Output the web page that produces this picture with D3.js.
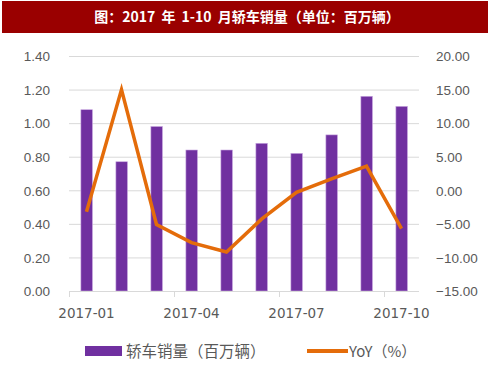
<!DOCTYPE html>
<html>
<head>
<meta charset="utf-8">
<script src="https://cdn.jsdelivr.net/npm/d3@7"></script>
<style>
  body { margin: 0; background: #fff; }
  svg { display: block; font-family: "DejaVu Sans", "Noto Sans CJK SC", sans-serif; }
</style>
</head>
<body>
<svg width="490" height="370"></svg>
<script>
// monthly data, Jan–Oct 2017
const months = ["2017-01", "2017-02", "2017-03", "2017-04", "2017-05",
                "2017-06", "2017-07", "2017-08", "2017-09", "2017-10"];
const sales = [1.08, 0.77, 0.98, 0.84, 0.84, 0.88, 0.82, 0.93, 1.16, 1.10];
const yoy = [-3.2, 15.0, -5.1, -7.8, -9.2, -4.3, -0.3, 1.7, 3.6, -5.7];
const leftTicks = [0, 0.2, 0.4, 0.6, 0.8, 1.0, 1.2, 1.4];
const rightTicks = [-15, -10, -5, 0, 5, 10, 15, 20];
const shownMonths = ["2017-01", "2017-04", "2017-07", "2017-10"];

const svg = d3.select("svg");
const margin = { left: 69, right: 419, top: 56, bottom: 291 };
const textColor = "#595959";
const tickSize = 13.5;

// title bar
svg.append("rect")
  .attr("x", 2).attr("y", 1)
  .attr("width", 486).attr("height", 32)
  .attr("fill", "#9a0000");
svg.append("text")
  .attr("x", 247).attr("y", 22)
  .attr("text-anchor", "middle")
  .attr("fill", "#fff")
  .attr("font-weight", "bold")
  .attr("font-size", 14)
  .style("font-family", "'Noto Sans CJK SC', serif")
  .style("word-spacing", "3px")
  .text("图：2017 年 1-10 月轿车销量（单位：百万辆）");

const x = d3.scaleBand()
  .domain(months)
  .range([margin.left, margin.right]);

const yLeft = d3.scaleLinear()
  .domain([0, 1.4])
  .range([margin.bottom, margin.top]);

const yRight = d3.scaleLinear()
  .domain([-15, 20])
  .range([margin.bottom, margin.top]);

// gridlines
svg.append("g")
  .selectAll("line")
  .data(leftTicks.slice(1))
  .join("line")
  .attr("x1", margin.left).attr("x2", margin.right)
  .attr("y1", d => yLeft(d) + 0.5).attr("y2", d => yLeft(d) + 0.5)
  .attr("stroke", "#d9d9d9")
  .attr("stroke-width", 1);

// left axis
const leftAxis = svg.append("g")
  .attr("transform", `translate(${margin.left - 19},0)`)
  .call(d3.axisLeft(yLeft).tickValues(leftTicks).tickFormat(d3.format(".2f")).tickSize(0).tickPadding(0));
leftAxis.select(".domain").remove();
leftAxis.selectAll("text")
  .attr("fill", textColor)
  .attr("font-size", tickSize)
  .attr("dy", "0.35em");

// right axis
const rightAxis = svg.append("g")
  .attr("transform", `translate(${margin.right + 17},0)`)
  .call(d3.axisRight(yRight).tickValues(rightTicks).tickFormat(d3.format(".2f")).tickSize(0).tickPadding(0));
rightAxis.select(".domain").remove();
rightAxis.selectAll("text")
  .attr("fill", textColor)
  .attr("font-size", tickSize)
  .attr("dy", "0.35em");

// bars
svg.append("g")
  .selectAll("rect")
  .data(months.map((m, i) => ({ m, v: sales[i] })))
  .join("rect")
  .attr("x", d => x(d.m) + x.bandwidth() * 0.34)
  .attr("width", x.bandwidth() * 0.33)
  .attr("y", d => yLeft(d.v))
  .attr("height", d => yLeft(0) - yLeft(d.v))
  .attr("fill", "#7030a0")
  .attr("stroke", "#c9a9e0")
  .attr("stroke-width", 0.6);

// x axis
svg.append("line")
  .attr("x1", margin.left).attr("x2", margin.right)
  .attr("y1", margin.bottom + 0.5).attr("y2", margin.bottom + 0.5)
  .attr("stroke", "#d9d9d9");
svg.append("g")
  .selectAll("line")
  .data(shownMonths)
  .join("line")
  .attr("x1", d => Math.round(x(d)) + 0.5).attr("x2", d => Math.round(x(d)) + 0.5)
  .attr("y1", margin.bottom).attr("y2", margin.bottom + 6)
  .attr("stroke", "#d9d9d9");
svg.append("g")
  .selectAll("text")
  .data(shownMonths)
  .join("text")
  .attr("x", d => x(d) + x.bandwidth() / 2)
  .attr("y", margin.bottom + 27)
  .attr("text-anchor", "middle")
  .attr("fill", textColor)
  .attr("font-size", tickSize)
  .text(d => d);

// YoY line
const line = d3.line()
  .x((d, i) => x(months[i]) + x.bandwidth() / 2)
  .y(d => yRight(d));
svg.append("path")
  .datum(yoy)
  .attr("d", line)
  .attr("fill", "none")
  .attr("stroke", "#e46c0a")
  .attr("stroke-width", 3.5)
  .attr("stroke-linejoin", "miter");

// legend
const legend = svg.append("g");
legend.append("rect")
  .attr("x", 85).attr("y", 346)
  .attr("width", 37).attr("height", 10)
  .attr("fill", "#7030a0");
legend.append("text")
  .attr("x", 126).attr("y", 357)
  .attr("fill", textColor)
  .attr("font-size", 15.5)
  .style("font-family", "'Noto Sans CJK SC', sans-serif")
  .text("轿车销量（百万辆）");
legend.append("line")
  .attr("x1", 307).attr("x2", 348)
  .attr("y1", 351).attr("y2", 351)
  .attr("stroke", "#e46c0a")
  .attr("stroke-width", 4);
legend.append("text")
  .attr("x", 349).attr("y", 357)
  .attr("fill", textColor)
  .attr("font-size", 15)
  .style("font-family", "'Noto Sans CJK SC', sans-serif")
  .text("YoY（%）");
</script>
</body>
</html>
